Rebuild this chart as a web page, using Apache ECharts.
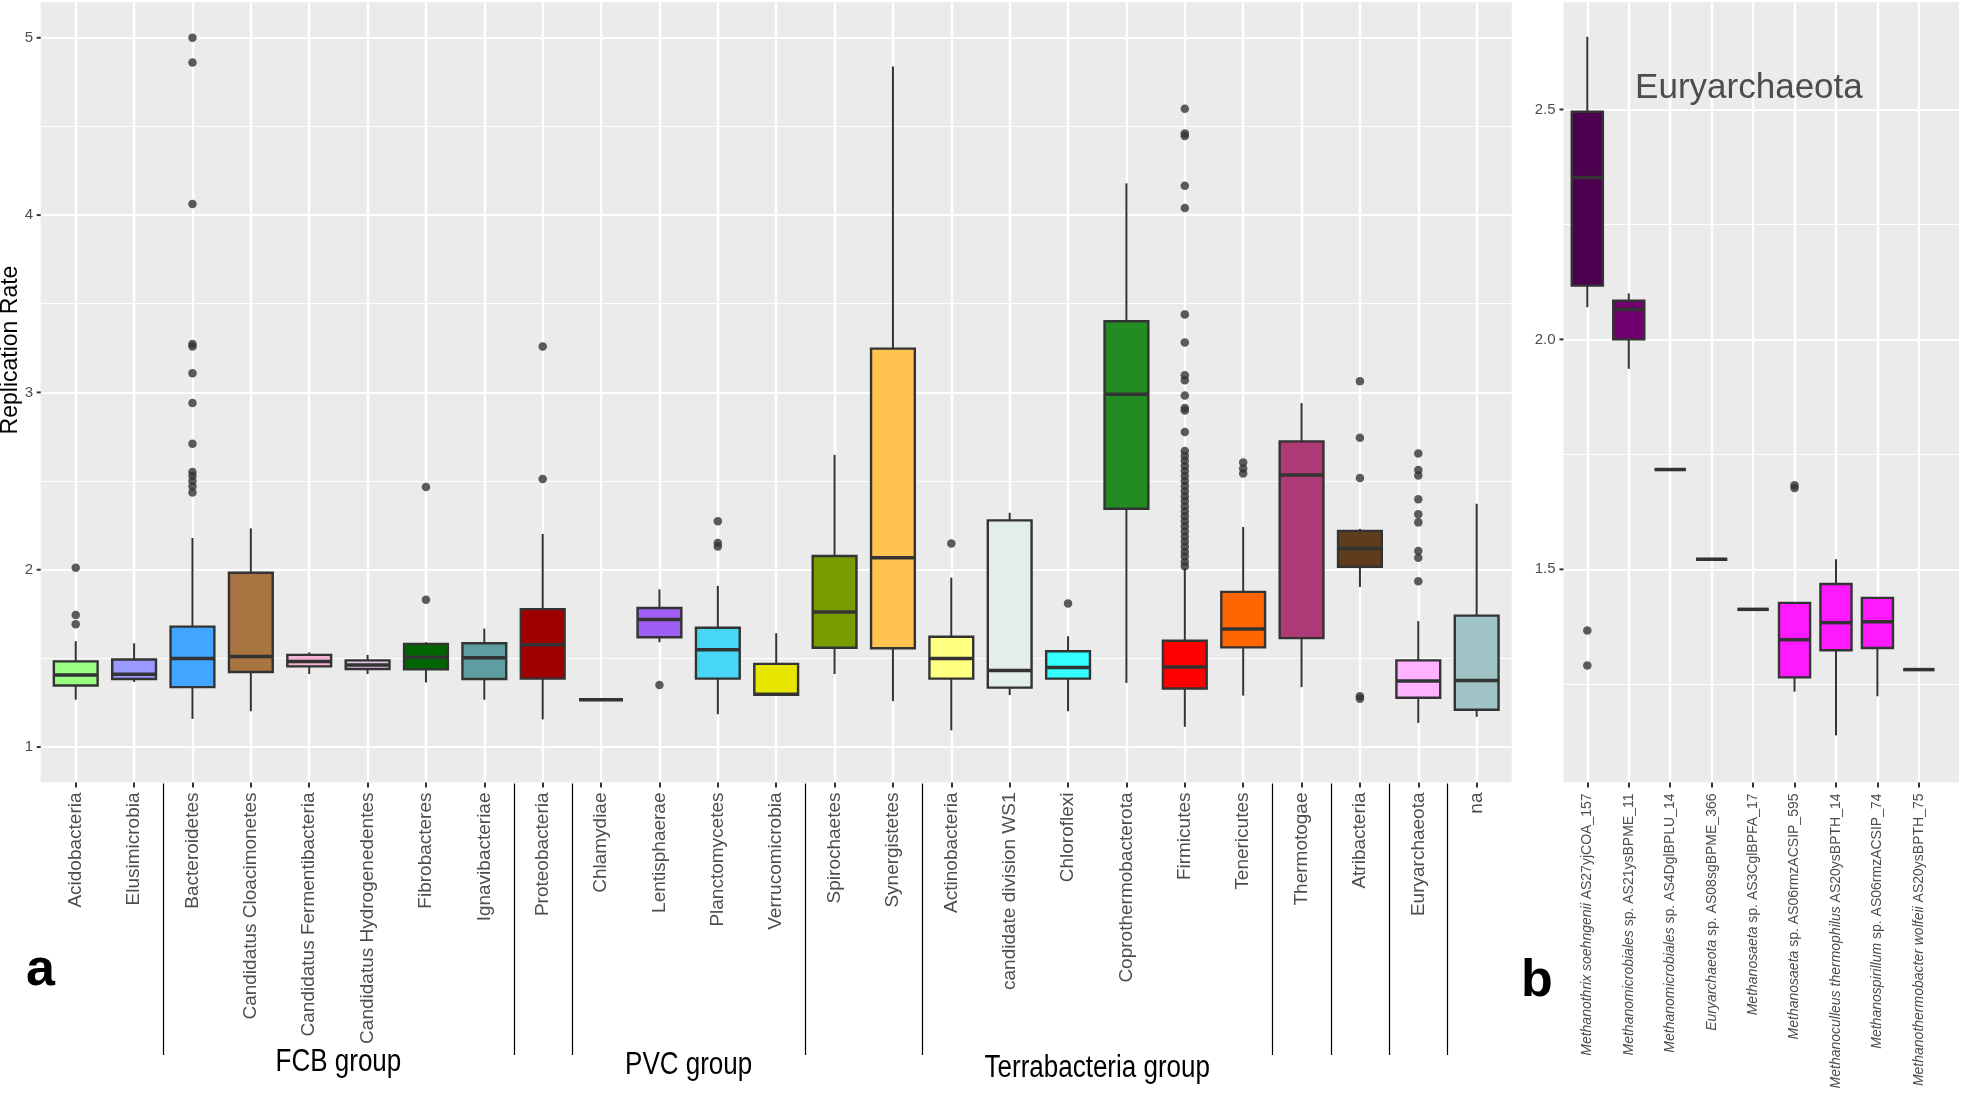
<!DOCTYPE html>
<html><head><meta charset="utf-8">
<script src="https://cdn.jsdelivr.net/npm/echarts@6/dist/echarts.min.js"></script>
<style>html,body{margin:0;padding:0;background:#fff}#c{width:1961px;height:1098px}</style>
</head><body><div id="c"></div>
<script>
// ---------- Panel a data ----------
const categoriesA = ['Acidobacteria','Elusimicrobia','Bacteroidetes','Candidatus Cloacimonetes','Candidatus Fermentibacteria','Candidatus Hydrogenedentes','Fibrobacteres','Ignavibacteriae','Proteobacteria','Chlamydiae','Lentisphaerae','Planctomycetes','Verrucomicrobia','Spirochaetes','Synergistetes','Actinobacteria','candidate division WS1','Chloroflexi','Coprothermobacterota','Firmicutes','Tenericutes','Thermotogae','Atribacteria','Euryarchaeota','na'];
const whiskerLowA  = [1.267,1.367,1.159,1.202,1.412,1.412,1.364,1.267,1.156,1.267,1.591,1.185,1.295,1.412,1.259,1.094,1.293,1.202,1.361,1.114,1.290,1.338,1.903,1.136,1.170];
const q1A          = [1.347,1.384,1.338,1.423,1.455,1.440,1.438,1.384,1.386,1.267,1.619,1.386,1.295,1.560,1.557,1.386,1.335,1.386,2.344,1.330,1.562,1.614,2.017,1.278,1.210];
const medianA      = [1.406,1.410,1.500,1.511,1.483,1.463,1.506,1.503,1.577,1.267,1.719,1.548,1.298,1.761,2.068,1.500,1.432,1.449,2.989,1.452,1.665,2.534,2.119,1.372,1.375];
const q3A          = [1.483,1.494,1.679,1.983,1.520,1.489,1.582,1.585,1.778,1.267,1.784,1.673,1.469,2.077,3.247,1.622,2.278,1.540,3.401,1.599,1.875,2.724,2.219,1.489,1.741];
const whiskerHighA = [1.597,1.585,2.179,2.233,1.534,1.520,1.591,1.668,2.202,1.267,1.889,1.909,1.642,2.648,4.838,1.955,2.321,1.625,4.179,2.009,2.241,2.940,2.230,1.710,2.372];
const outliersA = [
  [2.011,1.744,1.693],
  [],
  [5.0,4.861,4.063,3.273,3.259,3.108,2.94,2.71,2.551,2.528,2.50,2.47,2.435],
  [],[],[],
  [2.466,1.830],
  [],
  [3.259,2.511],
  [],
  [1.35],
  [2.273,2.151,2.131],
  [],[],[],
  [2.148],
  [],
  [1.810],
  [],
  [4.599,4.46,4.446,4.165,4.04,3.44,3.281,3.097,3.068,2.983,2.912,2.898,2.776,2.67,2.642,2.614,2.585,2.557,2.528,2.5,2.472,2.443,2.415,2.387,2.358,2.33,2.301,2.273,2.245,2.216,2.188,2.159,2.131,2.102,2.074,2.045,2.02],
  [2.605,2.571,2.543],
  [],
  [3.063,2.744,2.517,1.287,1.273],
  [2.656,2.562,2.531,2.398,2.313,2.267,2.105,2.068,1.935],
  []
];
const yTicksA = [1,2,3,4,5];
const groupNames = ['FCB group','PVC group','Terrabacteria group'];
const groupSpans = [[2,7],[9,12],[15,20]];
const separatorsAfter = [1,7,8,12,14,20,21,22,23];

// ---------- Panel b data ----------
const genusB = ['Methanothrix soehngenii','Methanomicrobiales','Methanomicrobiales','Euryarchaeota','Methanosaeta','Methanosaeta','Methanoculleus thermophilus','Methanospirillum','Methanothermobacter wolfeii'];
const strainB = [' AS27yjCOA_157',' sp. AS21ysBPME_11',' sp. AS4DglBPLU_14',' sp. AS08sgBPME_366',' sp. AS3CglBPFA_17',' sp. AS06rmzACSIP_595',' AS20ysBPTH_14',' sp. AS06rmzACSIP_74',' AS20ysBPTH_75'];
const whiskerLowB  = [2.070,1.936,1.717,1.522,1.413,1.234,1.139,1.224,1.282];
const q1B          = [2.117,2.000,1.717,1.522,1.413,1.265,1.324,1.329,1.282];
const medianB      = [2.352,2.065,1.717,1.522,1.413,1.347,1.384,1.386,1.282];
const q3B          = [2.495,2.084,1.717,1.522,1.413,1.427,1.468,1.438,1.282];
const whiskerHighB = [2.658,2.100,1.717,1.522,1.413,1.427,1.522,1.438,1.282];
const outliersB = [[1.367,1.291],[],[],[],[],[1.677,1.683],[],[],[]];
const yTicksB = [1.5,2.0,2.5];
const panelTitleB = 'Euryarchaeota';

// ---------- styles ----------
const colorsA = ['#99FF80','#9999FF','#42A5FF','#A97442','#F5B3D5','#E6BFE8','#006400','#5F9EA0','#9E0000','#D0D0D0','#9F5FF5','#47D6F5','#E6E600','#789C00','#FFC44F','#FFFF80','#E3EDE9','#33FFFF','#228B22','#FF0000','#FF6600','#AD3A74','#5E3C1C','#FFB3FF','#A0C4C6'];
const colorsB = ['#4D004F','#700070','#FF19FF','#FF19FF','#FF19FF','#FF19FF','#FF19FF','#FF19FF','#FF19FF'];
const FONT = "'Liberation Sans', Arial, sans-serif";
const STROKE = '#333333';
const PANEL_BG = '#EBEBEB';

function boxRender(colors, frac) {
  return function (params, api) {
    const i = api.value(0);
    const lo = api.coord([i, api.value(1)]);
    const q1 = api.coord([i, api.value(2)]);
    const md = api.coord([i, api.value(3)]);
    const q3 = api.coord([i, api.value(4)]);
    const hi = api.coord([i, api.value(5)]);
    const bw = api.size([1, 0])[0] * frac;
    const x = lo[0];
    return {type: 'group', children: [
      {type: 'line', shape: {x1: x, y1: hi[1], x2: x, y2: q3[1]}, style: {stroke: STROKE, lineWidth: 2}},
      {type: 'line', shape: {x1: x, y1: q1[1], x2: x, y2: lo[1]}, style: {stroke: STROKE, lineWidth: 2}},
      {type: 'rect', shape: {x: x - bw / 2, y: q3[1], width: bw, height: q1[1] - q3[1]}, style: {fill: colors[params.dataIndex], stroke: STROKE, lineWidth: 2.4}},
      {type: 'line', shape: {x1: x - bw / 2, y1: md[1], x2: x + bw / 2, y2: md[1]}, style: {stroke: STROKE, lineWidth: 3.5}}
    ]};
  };
}
function boxData(lo, q1, md, q3, hi) { return lo.map((v, i) => [i, v, q1[i], md[i], q3[i], hi[i]]); }
function outData(list) { const r = []; list.forEach((arr, i) => arr.forEach(v => r.push([i, v]))); return r; }

const TOP = 2.3, BOTTOM = 1098 - 782.5;
const yMinA = 0.8, yMaxA = 5.2, yMinB = 1.0365, yMaxB = 2.733;

const bgX = (min, max) => ({
  type: 'value', min, max, minInterval: 1, maxInterval: 1, splitNumber: 25,
  axisLine: {show: false}, axisTick: {show: false}, axisLabel: {show: false},
  splitLine: {show: true, showMinLine: false, showMaxLine: false, lineStyle: {color: '#FFFFFF', width: 2.4}}
});
const bgY = (min, max, step, ticks, fmt, margin) => ({
  type: 'value', min, max, minInterval: step, maxInterval: step, splitNumber: 4,
  axisLine: {show: false},
  axisTick: {show: false},
  axisLabel: {show: true, color: '#4D4D4D', fontSize: 15, fontFamily: FONT, margin,
    formatter: v => ticks.some(t => Math.abs(t - v) < 1e-6) ? fmt(v) : ''},
  splitLine: {show: true, showMinLine: false, showMaxLine: false, lineStyle: {color: '#FFFFFF', width: 2.2}},
  minorTick: {show: false, splitNumber: 2},
  minorSplitLine: {show: true, lineStyle: {color: '#FFFFFF', width: 1.1}}
});
const hiddenY = (min, max) => ({type: 'value', min, max, show: false, splitLine: {show: false}});

const option = {
  animation: false,
  backgroundColor: '#FFFFFF',
  textStyle: {fontFamily: FONT},
  grid: [
    {left: 40.7, right: 1961 - 1511.7, top: TOP, bottom: BOTTOM, show: true, backgroundColor: PANEL_BG, borderWidth: 0, containLabel: false},
    {left: 46.54, right: 1961 - 1505.86, top: TOP, bottom: BOTTOM, containLabel: false},
    {left: 1563.5, right: 2, top: TOP, bottom: BOTTOM, show: true, backgroundColor: PANEL_BG, borderWidth: 0, containLabel: false},
    {left: 1566.6, right: 1961 - 1939.6, top: TOP, bottom: BOTTOM, containLabel: false}
  ],
  xAxis: [
    Object.assign(bgX(-0.6, 24.6), {gridIndex: 0}),
    {gridIndex: 1, type: 'category', data: categoriesA, boundaryGap: true,
      axisLine: {show: false}, splitLine: {show: false},
      axisTick: {show: true, alignWithLabel: true, length: 5, lineStyle: {color: STROKE, width: 2}},
      axisLabel: {interval: 0, rotate: 90, margin: 10, color: '#4D4D4D', fontSize: 19, fontFamily: FONT}},
    Object.assign(bgX(-0.574, 8.968), {gridIndex: 2}),
    {gridIndex: 3, type: 'category', data: genusB.map((g, i) => i), boundaryGap: true,
      axisLine: {show: false}, splitLine: {show: false},
      axisTick: {show: true, alignWithLabel: true, length: 5, lineStyle: {color: STROKE, width: 2}},
      axisLabel: {interval: 0, rotate: 90, margin: 11, color: '#4D4D4D', fontSize: 14, fontFamily: FONT,
        formatter: (v, i) => '{i|' + genusB[i] + '}{n|' + strainB[i] + '}',
        rich: {i: {fontStyle: 'italic', fontSize: 14, color: '#4D4D4D', fontFamily: FONT},
               n: {fontSize: 14, color: '#4D4D4D', fontFamily: FONT}}}}
  ],
  yAxis: [
    Object.assign(bgY(yMinA, yMaxA, 1, yTicksA, v => String(Math.round(v)), 7.5), {gridIndex: 0}),
    Object.assign(hiddenY(yMinA, yMaxA), {gridIndex: 1}),
    Object.assign(bgY(yMinB, yMaxB, 0.5, yTicksB, v => v.toFixed(1), 8), {gridIndex: 2}),
    Object.assign(hiddenY(yMinB, yMaxB), {gridIndex: 3})
  ],
  series: [
    {type: 'custom', xAxisIndex: 1, yAxisIndex: 1, renderItem: boxRender(colorsA, 0.75),
      encode: {x: 0, y: [1, 2, 3, 4, 5]}, data: boxData(whiskerLowA, q1A, medianA, q3A, whiskerHighA), silent: true, z: 2},
    {type: 'scatter', xAxisIndex: 1, yAxisIndex: 1, data: outData(outliersA), symbol: 'circle', symbolSize: 8.5,
      itemStyle: {color: STROKE}, silent: true, z: 3},
    {type: 'custom', xAxisIndex: 3, yAxisIndex: 3, renderItem: boxRender(colorsB, 0.75),
      encode: {x: 0, y: [1, 2, 3, 4, 5]}, data: boxData(whiskerLowB, q1B, medianB, q3B, whiskerHighB), silent: true, z: 2},
    {type: 'scatter', xAxisIndex: 3, yAxisIndex: 3, data: outData(outliersB), symbol: 'circle', symbolSize: 8.5,
      itemStyle: {color: STROKE}, silent: true, z: 3}
  ]
};

const chart = echarts.init(document.getElementById('c'), null, {renderer: 'canvas'});
chart.setOption(option);

// decorations placed through the axes
const xA = v => chart.convertToPixel({xAxisIndex: 0}, v);
const yA = v => chart.convertToPixel({yAxisIndex: 0}, v);
const xB = v => chart.convertToPixel({xAxisIndex: 2}, v);
const yB = v => chart.convertToPixel({yAxisIndex: 2}, v);
const panelBottom = yA(yMinA);
const graphics = [];
// y-axis tick marks
const leftA = xA(-0.6), leftB = xB(-0.574);
yTicksA.forEach(t => { const y = yA(t); graphics.push({type: 'line', shape: {x1: leftA - 4, y1: y, x2: leftA, y2: y}, style: {stroke: STROKE, lineWidth: 2}, silent: true}); });
yTicksB.forEach(t => { const y = yB(t); graphics.push({type: 'line', shape: {x1: leftB - 4, y1: y, x2: leftB, y2: y}, style: {stroke: STROKE, lineWidth: 2}, silent: true}); });
separatorsAfter.forEach(i => {
  const x = Math.round(xA(i + 0.5)) + 0.5;
  graphics.push({type: 'line', shape: {x1: x, y1: panelBottom + 1, x2: x, y2: 1055}, style: {stroke: '#000', lineWidth: 1.2}, silent: true});
});
groupNames.forEach((g, k) => {
  const c = (groupSpans[k][0] + groupSpans[k][1]) / 2;
  graphics.push({type: 'text', x: xA(c), y: 1062 + k * 3, scaleY: 1.2, style: {text: g, font: "26px " + FONT, fill: '#000', textAlign: 'center', textVerticalAlign: 'middle'}, silent: true});
});
graphics.push({type: 'text', x: 11, y: 350, rotation: Math.PI / 2, style: {text: 'Replication Rate', font: "23px " + FONT, fill: '#000', textAlign: 'center', textVerticalAlign: 'middle'}, silent: true});
graphics.push({type: 'text', x: 26, y: 971, style: {text: 'a', font: "bold 52px " + FONT, fill: '#000', textAlign: 'left', textVerticalAlign: 'middle'}, silent: true});
graphics.push({type: 'text', x: 1521, y: 982, style: {text: 'b', font: "bold 52px " + FONT, fill: '#000', textAlign: 'left', textVerticalAlign: 'middle'}, silent: true});
graphics.push({type: 'text', x: xB(3.9), y: yB(2.55) + 2, style: {text: panelTitleB, font: "35px " + FONT, fill: '#4D4D4D', textAlign: 'center', textVerticalAlign: 'middle'}, silent: true});
chart.setOption({graphic: graphics});
</script>
</body></html>
